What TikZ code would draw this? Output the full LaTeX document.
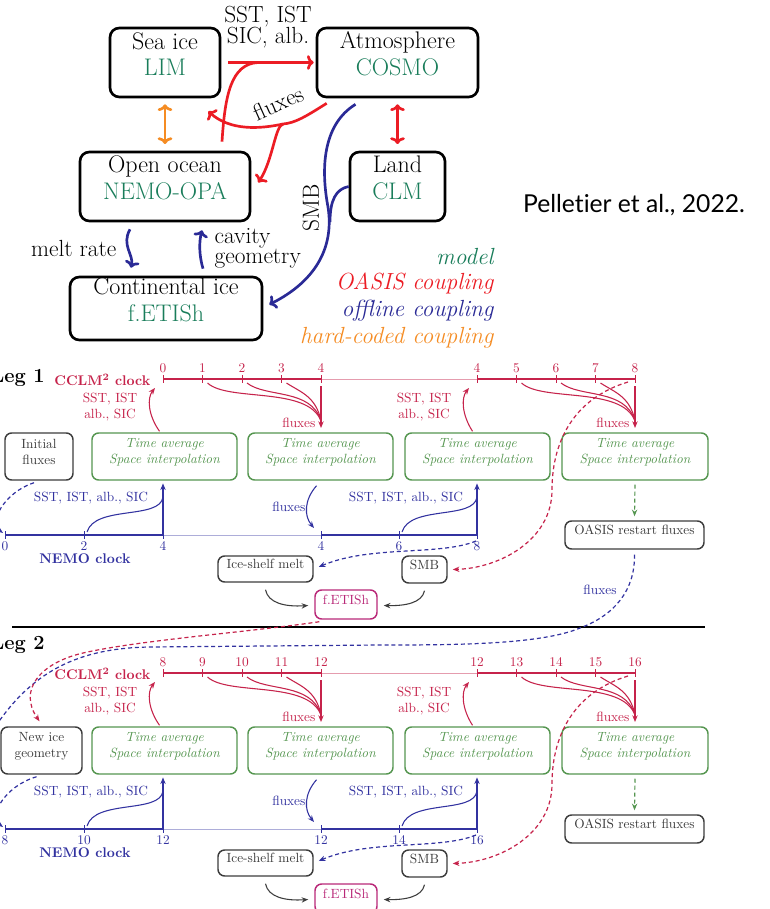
\documentclass[tikz,border=0pt]{standalone}
\usepackage{fontspec}
\newfontfamily\latofont[Ligatures=NoCommon]{Lato}
\usetikzlibrary{arrows.meta,calc,fit}
\definecolor{tred}{RGB}{236,28,36}
\definecolor{tblue}{RGB}{42,42,150}
\definecolor{torange}{RGB}{245,140,35}
\definecolor{tgreen}{RGB}{25,125,90}
\definecolor{cred}{RGB}{198,35,75}
\definecolor{bcol}{RGB}{50,50,160}
\definecolor{gcol}{RGB}{85,150,80}
\definecolor{kcol}{RGB}{60,60,60}
\definecolor{mcol}{RGB}{185,40,120}
\tikzset{
  tbox/.style={draw=black, line width=2pt, rounded corners=7pt, inner sep=0pt, align=center, font=\fontsize{18}{20}\selectfont},
  tfont/.style={font=\fontsize{17.5}{20}\selectfont, inner sep=1pt},
  tline/.style={line width=2pt},
  ttip/.style={-{To[length=5pt,width=11pt]}},
  ttips/.style={{To[length=5pt,width=11pt]}-{To[length=5pt,width=11pt]}},
  legtxt/.style={font=\fontsize{17.5}{20}\selectfont\itshape, anchor=east, inner sep=1pt},
  gbox/.style={draw=gcol, line width=1.1pt, rounded corners=5pt, inner sep=0pt, align=center, text=gcol, font=\fontsize{10}{12}\selectfont\itshape},
  kbox/.style={draw=kcol, line width=1.1pt, rounded corners=5pt, inner sep=0pt, align=center, text=kcol, font=\fontsize{10}{12}\selectfont},
  mbox/.style={draw=mcol, line width=1.1pt, rounded corners=5pt, inner sep=0pt, align=center, text=mcol, font=\fontsize{10}{12}\selectfont},
  cf/.style={font=\fontsize{10}{12.5}\selectfont, inner sep=1pt},
  cnum/.style={font=\fontsize{10}{12}\selectfont, inner sep=0.5pt, text=cred},
  bnum/.style={font=\fontsize{10}{12}\selectfont, inner sep=0.5pt, text=bcol},
  legf/.style={font=\fontsize{15}{18}\selectfont\bfseries, inner sep=0pt},
  clockf/.style={font=\fontsize{10.5}{12}\selectfont\bfseries, inner sep=1pt},
  cl/.style={line width=0.8pt},
  ctip/.style={-{Stealth[length=5pt,width=4pt]}},
  dsh/.style={line width=0.9pt, dash pattern=on 3pt off 2.2pt},
  cthick/.style={cred, line width=1.6pt},
  cthin/.style={cred!45, line width=0.6pt},
  bthick/.style={bcol, line width=1.6pt},
  bthin/.style={bcol!40, line width=0.6pt},
  tick/.style={line width=0.5pt}
}
\begin{document}
\begin{tikzpicture}[x=0.75pt,y=-0.75pt]
\fill[white] (0,0) rectangle (769,909);
\useasboundingbox (0,0) rectangle (769,909);

% ---------------- top diagram ----------------
\node[tbox, fit={(110,28)(220,97)}] (seaice) {Sea ice\\\textcolor{tgreen}{LIM}};
\node[tbox, fit={(317,28)(478,97)}] (atm) {Atmosphere\\\textcolor{tgreen}{COSMO}};
\node[tbox, fit={(80,152)(250,221)}] (ocean) {Open ocean\\\textcolor{tgreen}{NEMO-OPA}};
\node[tbox, fit={(350,152)(445,221)}] (land) {Land\\\textcolor{tgreen}{CLM}};
\node[tbox, fit={(70,277)(262,340)}] (cice) {Continental ice\\\textcolor{tgreen}{f.ETISh}};

\node[tfont, align=center, font=\fontsize{17.5}{16}\selectfont] (sstlab) at (268,27) {SST, IST\\SIC, alb.};
\draw[tred, tline, ttip] ([shift={(7,0)}]seaice.east) -- ([shift={(-2,0)}]atm.west);
\coordinate (om) at (258,62.5);
\draw[tred, tline] ([shift={(57,-9)}]ocean.north) .. controls (225,95) and (231,64) .. (om);

\coordinate (fxs) at (283,124);
\draw[tred, tline] ([shift={(11,5)}]atm.south west) .. controls (305,117) and (295,123) .. (fxs);
\draw[tred, tline, ttip] (fxs) .. controls (260,129) and (230,131) .. ([shift={(-13,13)}]seaice.south east);
\draw[tred, tline, ttip] (fxs) .. controls (275,126) and (273,160) .. ([shift={(7,-4)}]ocean.east);
\node[tfont, rotate=24] (fluxtop) at (278,103) {fluxes};

\draw[torange, tline, ttips, shorten <=4.5pt, shorten >=5pt] (seaice) -- (ocean);
\draw[tred, tline, ttips, shorten <=4.5pt, shorten >=5pt] (atm) -- (land);

\draw[tblue, tline, ttip] ([shift={(-35,7)}]ocean.south) .. controls (121,245) and (134,255) .. ([shift={(-35,-8)}]cice.north);
\draw[tblue, tline, ttip] ([shift={(37,-7)}]cice.north) .. controls (199,255) and (199,242) .. ([shift={(37,8)}]ocean.south);
\node[tfont, anchor=east] (meltlab) at (118,248) {melt rate};
\node[tfont, anchor=west, align=left, font=\fontsize{17.5}{15}\selectfont] (cavlab) at (213,248) {cavity\\geometry};

\coordinate (smbm) at (328,207);
\draw[tblue, tline] ([shift={(-42,6)}]atm.south) .. controls (322,125) and (321,170) .. (smbm);
\draw[tblue, tline, ttip] (smbm) .. controls (334,245) and (318,280) .. ([shift={(6,-4)}]cice.east);
\draw[tblue, tline] (land.west) .. controls (336,189) and (330,200) .. (330,222);
\node[tfont, rotate=90] (smblab) at (311,208) {SMB};

\node[legtxt, text=tgreen] (lg1) at (495,257) {model};
\node[legtxt, text=tred] (lg2) at (495,284) {OASIS coupling};
\node[legtxt, text=tblue] (lg3) at (495,311) {offline coupling};
\node[legtxt, text=torange] (lg4) at (495,338) {hard-coded coupling};

\node[font=\latofont\fontsize{18.5}{20}\selectfont, inner sep=0pt] (cite) at (634,205) {Pelletier et al., 2022.};

% ---------------- legs ----------------
\foreach \lg/\bs/\dy/\ly/\itxt/\ixa/\ixb in {1/0/0/378/{Initial\\fluxes}/5/73, 2/8/294/645/{New ice\\geometry}/1/82}{
  \node[legf, anchor=east] (leg\lg) at (45,\ly) {Leg \lg};
  \node[clockf, text=cred, anchor=east] (cclm\lg) at (152,380+\dy) {CCLM\textsuperscript{2} clock};
  \foreach \i in {0,...,4}{
    \pgfmathtruncatemacro\nc{\bs+\i}
    \pgfmathtruncatemacro\nd{\bs+4+\i}
    \coordinate (c\lg\i) at ({163+39.5*\i},379+\dy);
    \coordinate (d\lg\i) at ({477+39.5*\i},379+\dy);
    \node[cnum] (cn\lg\i) at ({163+39.5*\i},368+\dy) {\nc};
    \node[cnum] (dn\lg\i) at ({477+39.5*\i},368+\dy) {\nd};
  }
  \draw[cthick] (c\lg0) -- (c\lg4);
  \draw[cthin] (c\lg4) -- (d\lg0);
  \draw[cthick] (d\lg0) -- (d\lg4);
  \foreach \i in {0,...,4}{
    \draw[cred, tick] ([yshift=3pt]c\lg\i) -- ([yshift=-3pt]c\lg\i);
    \draw[cred, tick] ([yshift=3pt]d\lg\i) -- ([yshift=-3pt]d\lg\i);
  }
  % flux curves to fluxes arrows
  \coordinate (fa\lg) at (321,428+\dy);
  \coordinate (fm\lg) at (321,421+\dy);
  \coordinate (fb\lg) at (635,428+\dy);
  \coordinate (fn\lg) at (635,421+\dy);
  \draw[cred, cl] ([shift={(5,4)}]c\lg1) .. controls (228,402+\dy) and (308,386+\dy) .. (fm\lg);
  \draw[cred, cl] ([shift={(5,4)}]c\lg2) .. controls (266,398+\dy) and (311,388+\dy) .. (fm\lg);
  \draw[cred, cl] ([shift={(5,4)}]c\lg3) .. controls (300,392+\dy) and (316,396+\dy) .. (fm\lg);
  \draw[cred, cl, ctip] ([shift={(0,7)}]c\lg4) -- (fa\lg);
  \draw[cred, cl] ([shift={(5,4)}]d\lg1) .. controls (542,402+\dy) and (622,386+\dy) .. (fn\lg);
  \draw[cred, cl] ([shift={(5,4)}]d\lg2) .. controls (580,398+\dy) and (625,388+\dy) .. (fn\lg);
  \draw[cred, cl] ([shift={(5,4)}]d\lg3) .. controls (614,392+\dy) and (630,396+\dy) .. (fn\lg);
  \draw[cred, cl, ctip] ([shift={(0,7)}]d\lg4) -- (fb\lg);
  \node[cf, text=cred, anchor=east] (fla\lg) at (317,423+\dy) {fluxes};
  \node[cf, text=cred, anchor=east] (flb\lg) at (631,423+\dy) {fluxes};
  \node[cf, text=cred, align=center] (ssta\lg) at (110,407+\dy) {SST, IST\\alb., SIC};
  \node[cf, text=cred, align=center] (sstb\lg) at (424,407+\dy) {SST, IST\\alb., SIC};
  % boxes
  \node[kbox, fit={(\ixa,433+\dy)(\ixb,480+\dy)}] (init\lg) {\itxt};
  \node[gbox, fit={(92,433+\dy)(237,480+\dy)}] (gA\lg) {Time average\\Space interpolation};
  \node[gbox, fit={(248,433+\dy)(393,480+\dy)}] (gB\lg) {Time average\\Space interpolation};
  \node[gbox, fit={(405,433+\dy)(550,480+\dy)}] (gC\lg) {Time average\\Space interpolation};
  \node[gbox, fit={(562,433+\dy)(708,480+\dy)}] (gD\lg) {Time average\\Space interpolation};
  \draw[cred, cl, ctip] ([shift={(-5,-1)}]gA\lg.north) .. controls (148,415+\dy) and (147,398+\dy) .. ([shift={(-8,9)}]c\lg0);
  \draw[cred, cl, ctip] ([shift={(-5,-1)}]gC\lg.north) .. controls (462,415+\dy) and (461,398+\dy) .. ([shift={(-8,9)}]d\lg0);
  % NEMO clock
  \foreach \j/\xx/\k in {0/5/0, 1/84/2, 2/163/4, 3/321/4, 4/399/6, 5/477/8}{
    \pgfmathtruncatemacro\nn{\bs+\k}
    \coordinate (n\lg\j) at (\xx,535+\dy);
    \node[bnum] (nn\lg\j) at (\xx,546+\dy) {\nn};
  }
  \draw[bthick] (n\lg0) -- (n\lg2);
  \draw[bthin] (n\lg2) -- (n\lg3);
  \draw[bthick] (n\lg3) -- (n\lg5);
  \foreach \j in {0,...,5}{
    \draw[bcol, tick] ([yshift=3pt]n\lg\j) -- ([yshift=-3pt]n\lg\j);
  }
  \node[clockf, text=bcol] (nemo\lg) at (85,559+\dy) {NEMO clock};
  \coordinate (na\lg) at (163,497+\dy);
  \coordinate (nb\lg) at (477,497+\dy);
  \draw[bcol, cl, ctip, shorten >=2pt] (n\lg2) -- (n\lg2 |- gA\lg.south);
  \draw[bcol, cl] ([shift={(3,-3)}]n\lg1) .. controls (95,505+\dy) and (160,520+\dy) .. (na\lg);
  \draw[bcol, cl, ctip, shorten >=2pt] (n\lg5) -- (n\lg5 |- gC\lg.south);
  \draw[bcol, cl] ([shift={(3,-3)}]n\lg4) .. controls (410,505+\dy) and (474,520+\dy) .. (nb\lg);
  \node[cf, text=bcol] (sstc\lg) at (91,498+\dy) {SST, IST, alb., SIC};
  \node[cf, text=bcol] (sstd\lg) at (406,498+\dy) {SST, IST, alb., SIC};
  \draw[bcol, cl, ctip] ([shift={(-4,5)}]gB\lg.south) .. controls (304,500+\dy) and (304,516+\dy) .. ([shift={(-7,-7)}]n\lg3);
  \node[cf, text=bcol, anchor=east] (flc\lg) at (307,507+\dy) {fluxes};
  \draw[bcol, dsh, ctip] ([shift={(-5,2)}]init\lg.south) .. controls (5,492+\dy) and (-12,522+\dy) .. ([shift={(-2,-2)}]n\lg0);
  % bottom boxes
  \node[kbox, fit={(218,556+\dy)(313,582+\dy)}] (ism\lg) {Ice-shelf melt};
  \node[kbox, fit={(402,556+\dy)(447,583+\dy)}] (smb\lg) {SMB};
  \node[mbox, fit={(315,590+\dy)(377,619+\dy)}] (fet\lg) {f.ETISh};
  \node[kbox, fit={(565,521+\dy)(704,549+\dy)}] (oasis\lg) {OASIS restart fluxes};
  \draw[kcol, cl, ctip] ([shift={(0,7)}]ism\lg.south) .. controls (268,603+\dy) and (285,607+\dy) .. ([shift={(-6,1)}]fet\lg.west);
  \draw[kcol, cl, ctip] ([shift={(0,7)}]smb\lg.south) .. controls (422,603+\dy) and (405,606+\dy) .. ([shift={(6,1)}]fet\lg.east);
  \draw[bcol, dsh, ctip] ([shift={(-1,6)}]n\lg5) .. controls (440,556+\dy) and (370,545+\dy) .. ([shift={(5,-2)}]ism\lg.east);
  \draw[cred, dsh, ctip] ([shift={(-7,3)}]d\lg4) .. controls (575,398+\dy) and (552,440+\dy) .. (552,490+\dy) .. controls (552,540+\dy) and (500,568+\dy) .. ([shift={(5,0)}]smb\lg.east);
  \draw[gcol, dsh, ctip] ([yshift=-3pt]gD\lg.south) -- ([yshift=3pt]oasis\lg.north);
}

% separator
\draw[line width=1.5pt] (12,627) -- (705,627);

% leg 1 -> leg 2 links
\draw[bcol, dsh] ([shift={(0,5)}]oasis1.south) .. controls (635,590) and (615,615) .. (580,628) .. controls (540,645) and (450,645) .. (380,645) -- (150,647) .. controls (80,648) and (30,670) .. (-10,735);
\node[cf, text=bcol] (flx) at (600,590) {fluxes};
\draw[cred, dsh, ctip] ([shift={(5,2)}]fet1.south west) .. controls (250,632) and (140,640) .. (83,653) .. controls (40,663) and (18,690) .. ([shift={(-2,-5)}]init2.north);

\end{tikzpicture}
\end{document}
